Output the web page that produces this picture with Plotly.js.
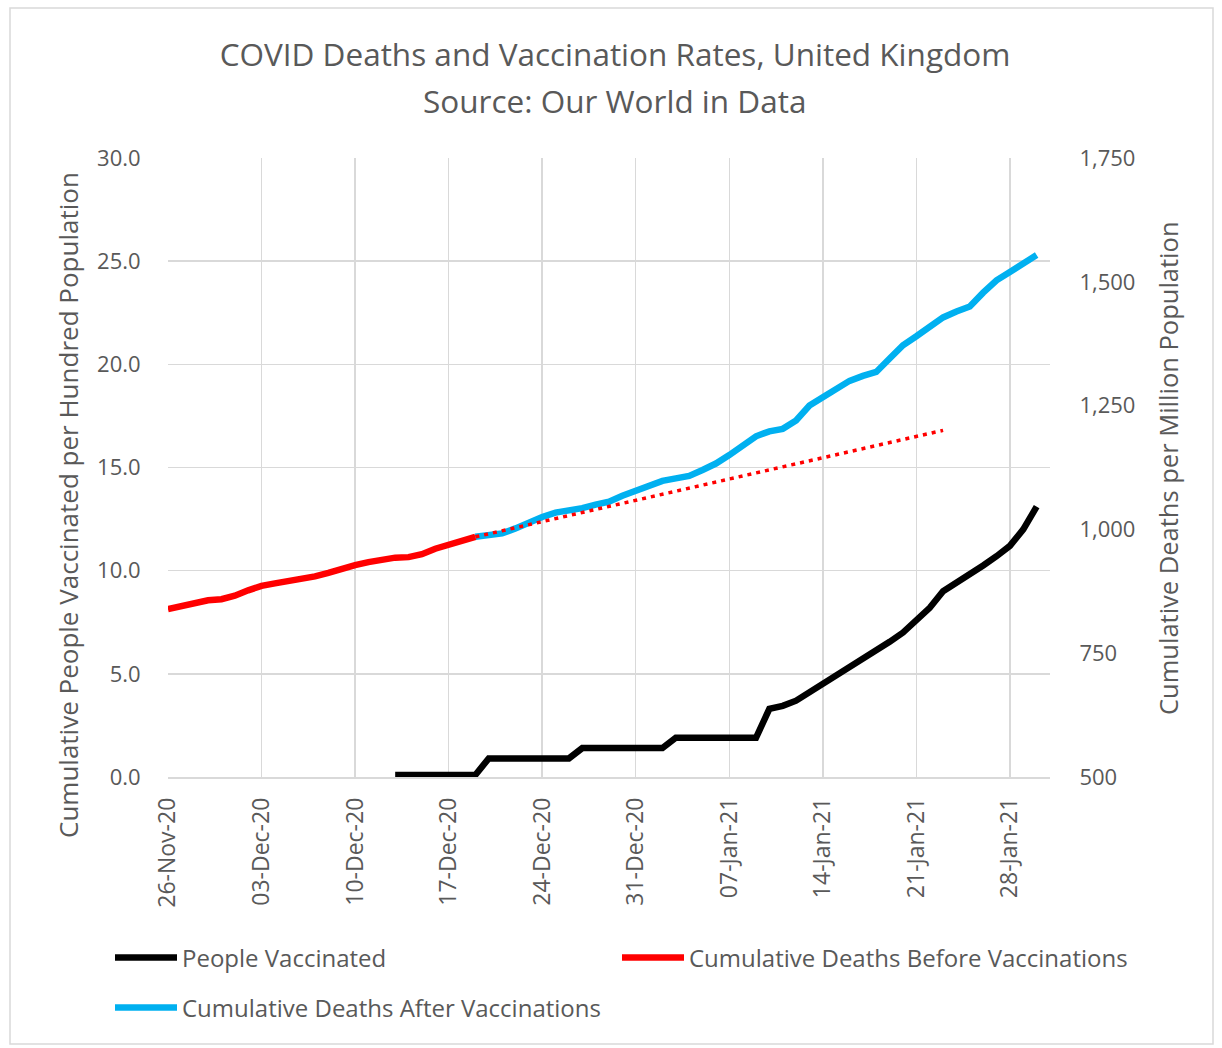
<!DOCTYPE html>
<html>
<head>
<meta charset="utf-8">
<script src="https://cdn.plot.ly/plotly-3.0.1.min.js"></script>
<style>
  html, body { margin: 0; padding: 0; background: #fff; }
  #grafico { width: 1222px; height: 1048px; }
</style>
</head>
<body>
<div id="grafico"></div>
<script>
// Datas diárias a partir de um dia inicial
function listaDias(inicio, n) {
    const dias = [];
    const d = new Date(inicio + 'T00:00:00Z');
    for (let i = 0; i < n; i++) {
        dias.push(d.toISOString().slice(0, 10));
        d.setUTCDate(d.getUTCDate() + 1);
    }
    return dias;
}

// Pessoas vacinadas por 100 habitantes (13-Dez-20 a 30-Jan-21)
const datasVacina = listaDias('2020-12-13', 49);
const pessoasVacinadas = [
    0.1, 0.1, 0.1, 0.1, 0.1, 0.1, 0.1,
    0.9, 0.9, 0.9, 0.9, 0.9, 0.9, 0.9,
    1.4, 1.4, 1.4, 1.4, 1.4, 1.4, 1.4,
    1.9, 1.9, 1.9, 1.9, 1.9, 1.9, 1.9,
    3.3, 3.45, 3.7, 4.1, 4.5, 4.9, 5.3,
    5.7, 6.1, 6.55, 7.0, 7.6, 8.2, 9.0,
    9.4, 9.8, 10.25, 10.7, 11.2, 12.0, 13.1
];

// Mortes acumuladas por milhão antes das vacinas (26-Nov-20 a 19-Dez-20)
const datasAntes = listaDias('2020-11-26', 24);
const mortesAntes = [
    839, 845, 852, 857, 859, 866, 877, 886, 891, 895, 900, 905,
    912, 921, 928, 934, 940, 943, 944, 950, 961, 969, 975, 985
];

// Mortes acumuladas por milhão depois das vacinas (19-Dez-20 a 30-Jan-21)
const datasDepois = listaDias('2020-12-19', 43);
const mortesDepois = [
    985, 990, 992, 1002, 1014, 1025, 1034, 1038, 1043, 1050,
    1056, 1068, 1078, 1090, 1098, 1103, 1108, 1120, 1133, 1150,
    1168, 1188, 1198, 1203, 1220, 1250, 1267, 1284, 1300, 1310,
    1318, 1345, 1372, 1390, 1410, 1428, 1440, 1450, 1478, 1503,
    1520, 1537, 1554
];

const datasTendencia = ['2020-12-19', '2021-01-23'];
const valoresTendencia = [985, 1200];

const datasEixo = ['2020-11-26', '2020-12-03', '2020-12-10', '2020-12-17', '2020-12-24',
                   '2020-12-31', '2021-01-07', '2021-01-14', '2021-01-21', '2021-01-28'];

const cinza = '#595959';
const grade = '#d9d9d9';
const fonte = 'Open Sans, sans-serif';

// posição em pixels -> coordenadas de papel
const L = 168, R = 1050, T = 158, B = 777;
const px = x => (x - L) / (R - L);
const py = y => (B - y) / (B - T);

const traces = [
    {
        x: datasVacina, y: pessoasVacinadas, name: 'People Vaccinated',
        type: 'scatter', mode: 'lines', yaxis: 'y',
        line: { color: '#000000', width: 6.5 }, legend: 'legend'
    },
    {
        x: datasDepois, y: mortesDepois, name: 'Cumulative Deaths After Vaccinations',
        type: 'scatter', mode: 'lines', yaxis: 'y2',
        line: { color: '#00b0f0', width: 6.5 }, legend: 'legend3'
    },
    {
        x: datasAntes, y: mortesAntes, name: 'Cumulative Deaths Before Vaccinations',
        type: 'scatter', mode: 'lines', yaxis: 'y2',
        line: { color: '#ff0000', width: 6.5 }, legend: 'legend2'
    },
    {
        x: datasTendencia, y: valoresTendencia, name: 'Tendência',
        type: 'scatter', mode: 'lines', yaxis: 'y2', showlegend: false,
        line: { color: '#ff0000', width: 3.5, dash: '4px,5px' }
    }
];

const legenda = (x, y) => ({
    x: px(x), y: py(y), xanchor: 'left', yanchor: 'middle',
    orientation: 'h', bgcolor: 'rgba(0,0,0,0)', itemwidth: 62,
    font: { family: fonte, size: 24, color: cinza }
});

const texto = (t, x, y, size, angle) => ({
    text: t, showarrow: false, xref: 'paper', yref: 'paper',
    x: px(x), y: py(y), xanchor: 'center', yanchor: 'middle',
    textangle: angle || 0,
    font: { family: fonte, size: size, color: cinza }
});

const layout = {
    width: 1222,
    height: 1048,
    paper_bgcolor: '#ffffff',
    plot_bgcolor: '#ffffff',
    margin: { l: L, r: 1222 - R, t: T, b: 1048 - B },
    font: { family: fonte, color: cinza },
    title: {
        text: 'COVID Deaths and Vaccination Rates, United Kingdom',
        font: { family: fonte, size: 31.5, color: cinza },
        x: px(615), xref: 'paper', xanchor: 'center',
        y: 1 - 55 / 1048, yref: 'container', yanchor: 'middle'
    },
    annotations: [
        texto('Source: Our World in Data', 614, 100, 31.5),
        texto('Cumulative People Vaccinated per Hundred Population', 68, 505, 26, -90),
        texto('Cumulative Deaths per Million Population', 1168, 468, 25.5, -90)
    ],
    shapes: [{
        type: 'rect', xref: 'paper', yref: 'paper',
        x0: px(10), x1: px(1213), y0: py(1044), y1: py(8),
        line: { color: grade, width: 1.5 }, layer: 'below'
    }],
    xaxis: {
        type: 'date',
        range: ['2020-11-26', '2021-01-31'],
        tickvals: datasEixo,
        tickformat: '%d-%b-%y',
        tickangle: -90,
        tickfont: { family: fonte, size: 23, color: cinza },
        ticks: 'outside', ticklen: 10, tickcolor: 'rgba(0,0,0,0)',
        showgrid: true, gridcolor: grade, gridwidth: 1.5,
        showline: true, linecolor: grade, linewidth: 1.5,
        zeroline: false
    },
    yaxis: {
        range: [0, 30],
        dtick: 5,
        tickformat: '.1f',
        tickfont: { family: fonte, size: 22, color: cinza },
        ticks: 'outside', ticklen: 22, tickcolor: 'rgba(0,0,0,0)',
        showgrid: true, gridcolor: grade, gridwidth: 1.5,
        zeroline: false, showline: false
    },
    yaxis2: {
        overlaying: 'y',
        side: 'right',
        range: [500, 1750],
        dtick: 250,
        tickformat: ',d',
        tickfont: { family: fonte, size: 22, color: cinza },
        ticks: 'outside', ticklen: 24, tickcolor: 'rgba(0,0,0,0)',
        showgrid: false, zeroline: false, showline: false
    },
    legend: legenda(110, 958),
    legend2: legenda(617, 958),
    legend3: legenda(110, 1008),
    showlegend: true
};

Plotly.newPlot('grafico', traces, layout, { displayModeBar: false, staticPlot: true });
</script>
</body>
</html>
